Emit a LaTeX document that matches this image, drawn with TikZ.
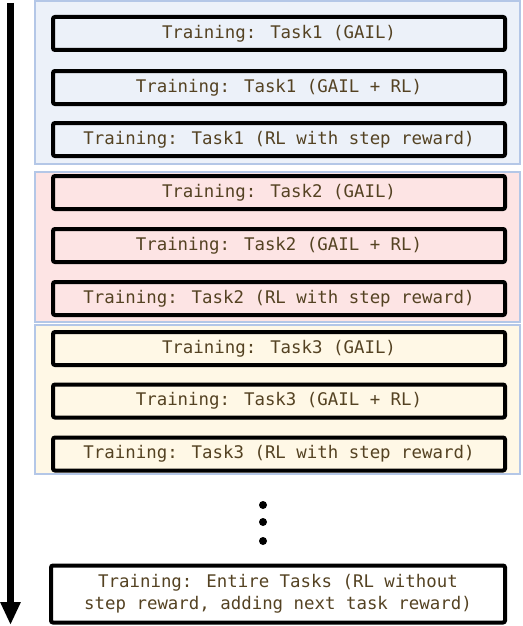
\documentclass[tikz,border=0pt]{standalone}
\usepackage{fontspec}
\newfontfamily\boxfont{DejaVu Sans Mono}
\usetikzlibrary{arrows.meta}
\definecolor{txtbrown}{RGB}{84,66,34}
\definecolor{grpborder}{RGB}{180,199,231}
\definecolor{grpblue}{RGB}{236,241,249}
\definecolor{grppink}{RGB}{253,228,228}
\definecolor{grpyellow}{RGB}{255,248,230}
\tikzset{
  grp/.style={draw=grpborder, line width=1.3pt, minimum width=485pt, inner sep=0pt},
  stagebox/.style={draw=black, line width=4pt, rounded corners=2pt, minimum width=452pt,
    minimum height=33pt, inner sep=0pt, text=txtbrown,
    font=\boxfont\fontsize{17.4}{22}\selectfont},
  dotn/.style={circle, fill=black, inner sep=0pt, minimum size=8pt},
  timeline/.style={line width=7pt, -{Triangle[width=19pt,length=23pt]}}
}
\begin{document}
\begin{tikzpicture}[x=1pt,y=-1pt]
\useasboundingbox (0,0) rectangle (522,626);
% groups
\node[grp, fill=grpblue, minimum height=163pt] (g1) at (277.5,82.5) {};
\node[grp, fill=grppink, minimum height=150pt] (g2) at (277.5,247) {};
\node[grp, fill=grpyellow, minimum height=149pt] (g3) at (277.5,399.5) {};
% boxes
\node[stagebox] (t1a) at (279,33.5) {Training: Task1 (GAIL)};
\node[stagebox] (t1b) at (279,87.5) {Training: Task1 (GAIL + RL)};
\node[stagebox] (t1c) at (279,139.5) {Training: Task1 (RL with step reward)};
\node[stagebox] (t2a) at (279,192.5) {Training: Task2 (GAIL)};
\node[stagebox] (t2b) at (279,245.5) {Training: Task2 (GAIL + RL)};
\node[stagebox] (t2c) at (279,298.5) {Training: Task2 (RL with step reward)};
\node[stagebox] (t3a) at (279,348.5) {Training: Task3 (GAIL)};
\node[stagebox] (t3b) at (279,401) {Training: Task3 (GAIL + RL)};
\node[stagebox] (t3c) at (279,454) {Training: Task3 (RL with step reward)};
% dots
\node[dotn] (d1) at (263,505) {};
\node[dotn] (d2) at (263,522) {};
\node[dotn] (d3) at (263,541) {};
% final box
\node[stagebox, minimum width=454pt, minimum height=57pt, align=center] (fin) at (278,594)
  {Training: Entire Tasks (RL without\\step reward, adding next task reward)};
% timeline arrow
\coordinate (atop) at (10.5,3);
\coordinate (abot) at (10.5,625);
\draw[timeline] (atop) -- (abot);
\end{tikzpicture}
\end{document}
